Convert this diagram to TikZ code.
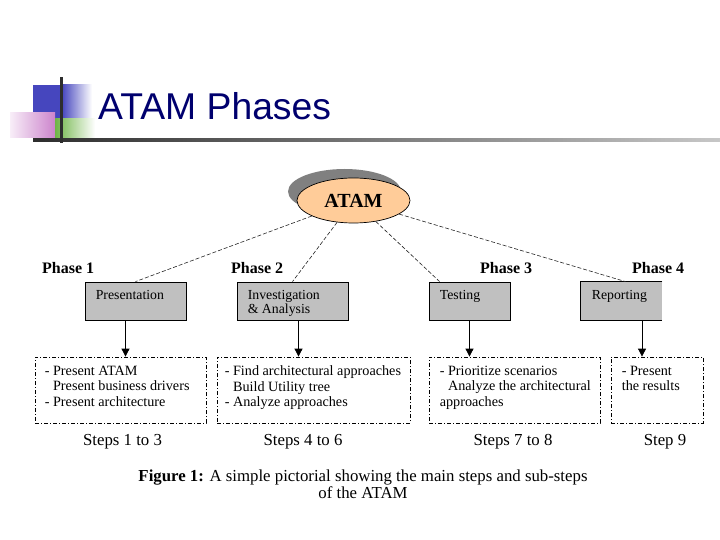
\documentclass[tikz,border=0pt]{standalone}
\usepackage{fontspec}
\setmainfont{Liberation Serif}
\newfontfamily\titlefont{Liberation Sans}
\usetikzlibrary{arrows.meta,shapes.geometric}
\definecolor{boxgrey}{RGB}{192,192,192}
\definecolor{peach}{RGB}{255,204,153}
\definecolor{shadowgrey}{RGB}{128,128,128}
\definecolor{navy}{RGB}{0,0,110}
\definecolor{decoblue}{RGB}{70,70,190}
\definecolor{decopink}{RGB}{195,110,195}
\definecolor{decogreen}{RGB}{110,180,70}
\definecolor{linedark}{RGB}{45,45,45}
\begin{document}
\begin{tikzpicture}[x=1pt,y=-1pt,
  gbox/.style={fill=boxgrey, line width=0.8pt, inner sep=0},
  ddbox/.style={draw, line width=0.8pt, dash pattern=on 4pt off 2pt on 1pt off 2pt, inner sep=0},
  conn/.style={draw=black!85, line width=0.6pt, dash pattern=on 4pt off 2pt},
  arr/.style={line width=0.8pt, -{Triangle[length=8pt,width=8pt]}},
  phaselbl/.style={font=\fontsize{16}{18}\selectfont\bfseries, anchor=base west, inner sep=0},
  boxlbl/.style={font=\fontsize{13.8}{14}\selectfont, anchor=north west, inner sep=0, align=left},
  listtxt/.style={font=\fontsize{14.2}{15.5}\selectfont, anchor=north west, inner sep=0, align=left},
  steplbl/.style={font=\fontsize{16.8}{18}\selectfont, anchor=base, inner sep=0},
]
\useasboundingbox (0,0) rectangle (720,540);
\fill[white] (0,0) rectangle (720,540);

% title decoration
\fill[decoblue] (33,85) rectangle (62,119);
\shade[left color=decoblue, right color=white] (62,85) rectangle (92,119);
\shade[left color=decopink!12, right color=decopink!85] (10,113) rectangle (55,138);
\shade[left color=decogreen, right color=white] (55,119) rectangle (95,138);
\shade[left color=linedark, right color=black!22] (33,139) rectangle (720,142);
\fill[linedark] (59.8,77) rectangle (62.5,143);
\node[font=\titlefont\fontsize{37.3}{40}\selectfont, text=navy, anchor=base west, inner sep=0] (title) at (98,120) {ATAM Phases};

% ATAM ellipse
\node[ellipse, fill=shadowgrey, minimum width=113pt, minimum height=45pt, inner sep=0] (atamshadow) at (344.5,191.5) {};
\node[ellipse, draw, fill=peach, line width=0.7pt, minimum width=113pt, minimum height=45pt, inner sep=0,
      font=\fontsize{20}{21}\selectfont\bfseries] (atam) at (353.5,200.5) {ATAM};

% phase boxes
\node[gbox, draw, minimum width=101pt, minimum height=38pt] (p1) at (135.5,301) {};
\node[gbox, draw, minimum width=111pt, minimum height=38pt] (p2) at (292.5,301) {};
\node[gbox, draw, minimum width=81pt, minimum height=38pt] (p3) at (469.5,301) {};
\node[gbox, minimum width=81pt, minimum height=38pt] (p4) at (621.5,301) {};
\draw[line width=0.8pt] (p4.north east) -- (p4.north west) -- (p4.south west) -- (p4.south east);

\node[boxlbl] (t1) at ([xshift=11pt,yshift=-9pt]p1.north west) {Presentation};
\node[boxlbl] (t2) at ([xshift=11pt,yshift=-9pt]p2.north west) {Investigation\\\& Analysis};
\node[boxlbl] (t3) at ([xshift=11pt,yshift=-9pt]p3.north west) {Testing};
\node[boxlbl] (t4) at ([xshift=11pt,yshift=-9pt]p4.north west) {Reporting};

% phase labels
\node[phaselbl] (ph1) at (42,273) {Phase 1};
\node[phaselbl] (ph2) at (231,273) {Phase 2};
\node[phaselbl] (ph3) at (480,273) {Phase 3};
\node[phaselbl] (ph4) at (632,273) {Phase 4};

% connectors
\draw[conn] (atam) -- (p1.north);
\draw[conn] (atam) -- (p2.north);
\draw[conn] (atam) -- ([xshift=11pt]p3.north west);
\draw[conn] (atam) -- ([xshift=4pt]p4.north);

% sub-step boxes
\node[ddbox, minimum width=171pt, minimum height=66pt] (d1) at (120.5,390) {};
\node[ddbox, minimum width=193pt, minimum height=66pt] (d2) at (313.5,390) {};
\node[ddbox, minimum width=171pt, minimum height=66pt] (d3) at (514.5,390) {};
\node[ddbox, minimum width=92pt, minimum height=66pt] (d4) at (657,390) {};

\draw[arr] ([xshift=-10pt]p1.south) -- ([xshift=-10pt]p1.south |- d1.north);
\draw[arr] ([xshift=6pt]p2.south) -- ([xshift=6pt]p2.south |- d2.north);
\draw[arr] (p3.south) -- (p3.south |- d3.north);
\draw[arr] ([xshift=20.5pt]p4.south) -- ([xshift=20.5pt]p4.south |- d4.north);

\node[listtxt] (l1) at ([xshift=10pt,yshift=-9pt]d1.north west) {- Present ATAM\\\phantom{- }Present business drivers\\- Present architecture};
\node[listtxt] (l2) at ([xshift=8pt,yshift=-9pt]d2.north west) {- Find architectural approaches\\\phantom{- }Build Utility tree\\- Analyze approaches};
\node[listtxt] (l3) at ([xshift=11pt,yshift=-9pt]d3.north west) {- Prioritize scenarios\\\phantom{- }Analyze the architectural\\approaches};
\node[listtxt] (l4) at ([xshift=11pt,yshift=-9pt]d4.north west) {- Present\\the results};

% step labels
\node[steplbl] (s1) at (122.5,445) {Steps 1 to 3};
\node[steplbl] (s2) at (303,445) {Steps 4 to 6};
\node[steplbl] (s3) at (513,445) {Steps 7 to 8};
\node[steplbl] (s4) at (665,445) {Step 9};

% caption
\node[font=\fontsize{16.8}{17}\selectfont, align=center, anchor=north, inner sep=0] (cap) at (363,470)
  {\textbf{Figure 1:} A simple pictorial showing the main steps and sub-steps\\of the ATAM};
\end{tikzpicture}
\end{document}
